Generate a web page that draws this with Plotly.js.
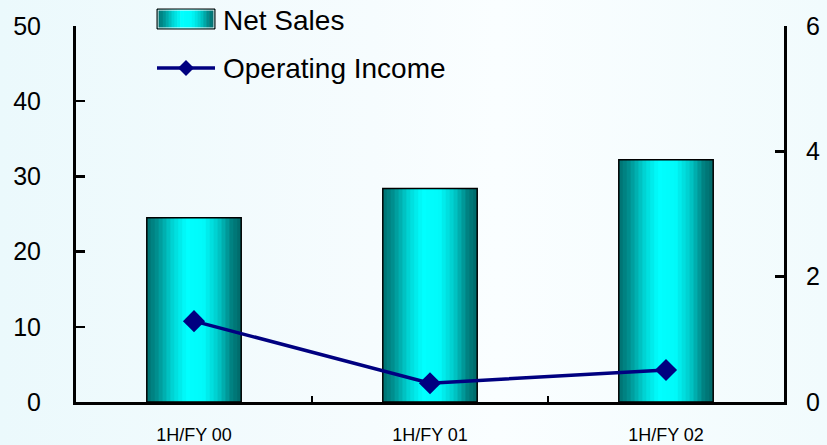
<!DOCTYPE html>
<html>
<head>
<meta charset="utf-8">
<script src="https://cdn.plot.ly/plotly-3.0.1.min.js"></script>
<style>
  html, body { margin: 0; padding: 0; }
  body { width: 827px; height: 445px; background: linear-gradient(to right, #ebf9fc 0%, #f6fcfe 45%, #fafeff 60%, #f1fbfd 100%); }
  #chart { width: 827px; height: 445px; }
</style>
</head>
<body>
<div id="chart"></div>
<script>
// ---- data ----
const categories = ["1H/FY 00", "1H/FY 01", "1H/FY 02"];
const netSales = [24.5, 28.4, 32.2];
const operatingIncome = [1.29, 0.30, 0.51];
const seriesNames = ["Net Sales", "Operating Income"];
const leftTicks = [0, 10, 20, 30, 40, 50];
const rightTicks = [0, 2, 4, 6];

// ---- styles ----
const FONT = "Liberation Sans, Arial, sans-serif";
const gradStops = [
  [0.00, [0, 112, 112]],
  [0.10, [0, 140, 140]],
  [0.28, [0, 215, 215]],
  [0.42, [0, 255, 255]],
  [0.60, [0, 250, 250]],
  [0.76, [0, 200, 200]],
  [0.90, [0, 128, 128]],
  [1.00, [0, 104, 104]]
];
function gradColor(t) {
  for (let i = 1; i < gradStops.length; i++) {
    if (t <= gradStops[i][0]) {
      const a = gradStops[i - 1], b = gradStops[i];
      const f = (t - a[0]) / (b[0] - a[0]);
      const c = a[1].map((v, k) => Math.round(v + (b[1][k] - v) * f));
      return "rgb(" + c.join(",") + ")";
    }
  }
  return "rgb(" + gradStops[gradStops.length - 1][1].join(",") + ")";
}

const BAR_W = 0.40;
const N = 24;
const traces = [];
for (let i = 0; i < N; i++) {
  const w = BAR_W / N;
  const isLast = i === N - 1;
  traces.push({
    type: "bar", x: categories, y: netSales, yaxis: "y",
    width: isLast ? w : w * 1.6, offset: -BAR_W / 2 + i * w,
    marker: { color: gradColor((i + 0.5) / N), line: { width: 0 } },
    hoverinfo: "skip", showlegend: false
  });
}
traces.push({
  type: "bar", x: categories, y: netSales, yaxis: "y", name: seriesNames[0],
  width: BAR_W, offset: -BAR_W / 2,
  marker: { color: "rgba(0,0,0,0)", line: { color: "#000", width: 1.5 } },
  showlegend: false
});
traces.push({
  type: "scatter", mode: "lines+markers", x: categories, y: operatingIncome, yaxis: "y2",
  name: seriesNames[1],
  line: { color: "#000080", width: 3.5 },
  marker: { symbol: "diamond", size: 17, color: "#000080" },
  cliponaxis: false, showlegend: false
});

// ---- legend (drawn manually in paper coords) ----
const L = 76, R = 784, T = 26, B = 402;
const px = x => (x - L) / (R - L);
const py = y => (B - y) / (B - T);
const shapes = [];
const lx0 = 157, lx1 = 215, ly0 = 9, ly1 = 29;
const NS = 20;
for (let i = 0; i < NS; i++) {
  const a = lx0 + (lx1 - lx0) * i / NS, b = lx0 + (lx1 - lx0) * (i + 1) / NS + 0.6;
  shapes.push({ type: "rect", xref: "paper", yref: "paper", x0: px(a), x1: px(Math.min(b, lx1)), y0: py(ly1), y1: py(ly0),
    fillcolor: gradColor((i + 0.5) / NS), line: { width: 0 }, layer: "above" });
}
shapes.push({ type: "rect", xref: "paper", yref: "paper", x0: px(lx0 + 1), x1: px(lx1 - 1), y0: py(ly1 - 1), y1: py(ly0 + 1),
  fillcolor: "rgba(0,0,0,0)", line: { color: "#ffffff", width: 1 }, layer: "above" });
shapes.push({ type: "rect", xref: "paper", yref: "paper", x0: px(lx0), x1: px(lx1), y0: py(ly1), y1: py(ly0),
  fillcolor: "rgba(0,0,0,0)", line: { color: "#000", width: 1 }, layer: "above" });
const lyLine = 68;
shapes.push({ type: "line", xref: "paper", yref: "paper", x0: px(157), x1: px(215), y0: py(lyLine), y1: py(lyLine),
  line: { color: "#000080", width: 3.5 }, layer: "above" });
const dx = 186, dr = 8;
shapes.push({ type: "path", xref: "paper", yref: "paper",
  path: `M ${px(dx - dr)} ${py(lyLine)} L ${px(dx)} ${py(lyLine - dr)} L ${px(dx + dr)} ${py(lyLine)} L ${px(dx)} ${py(lyLine + dr)} Z`,
  fillcolor: "#000080", line: { width: 0 }, layer: "above" });

const annotations = [
  { xref: "paper", yref: "paper", x: px(221), y: py(20.5), xanchor: "left", yanchor: "middle",
    text: seriesNames[0], showarrow: false, font: { family: FONT, size: 28, color: "#000" } },
  { xref: "paper", yref: "paper", x: px(221), y: py(68.5), xanchor: "left", yanchor: "middle",
    text: seriesNames[1], showarrow: false, font: { family: FONT, size: 28, color: "#000" } }
];

const layout = {
  width: 827, height: 445,
  margin: { l: L, r: 827 - R, t: T, b: 445 - B, pad: 0 },
  paper_bgcolor: "rgba(0,0,0,0)", plot_bgcolor: "rgba(0,0,0,0)",
  barmode: "overlay", showlegend: false,
  font: { family: FONT, color: "#000" },
  xaxis: {
    type: "category", range: [-0.5, 2.5], showgrid: false, zeroline: false,
    showline: true, linecolor: "#000", linewidth: 3,
    ticks: "inside", tickson: "boundaries", ticklen: 6, tickwidth: 2, tickcolor: "#000",
    tickfont: { family: FONT, size: 18, color: "#000" }, ticklabelstandoff: 14
  },
  yaxis: {
    range: [0, 50], tickvals: leftTicks, showgrid: false, zeroline: false,
    showline: true, linecolor: "#000", linewidth: 3,
    ticks: "inside", ticklen: 9, tickwidth: 2.5, tickcolor: "#000",
    tickfont: { family: FONT, size: 25, color: "#000" }, ticklabelstandoff: 27
  },
  yaxis2: {
    overlaying: "y", side: "right", range: [0, 6], tickvals: rightTicks, showgrid: false, zeroline: false,
    showline: true, linecolor: "#000", linewidth: 3,
    ticks: "inside", ticklen: 9, tickwidth: 2.5, tickcolor: "#000",
    tickfont: { family: FONT, size: 25, color: "#000" }, ticklabelstandoff: 14
  },
  shapes: shapes,
  annotations: annotations
};

Plotly.newPlot("chart", traces, layout, { staticPlot: true, displayModeBar: false });
</script>
</body>
</html>
